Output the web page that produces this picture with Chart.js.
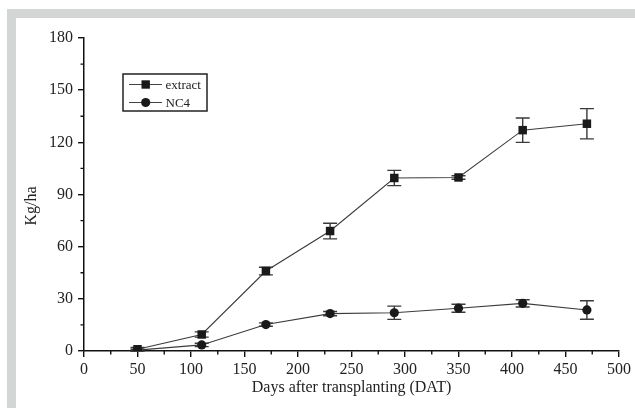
<!DOCTYPE html>
<html>
<head>
<meta charset="utf-8">
<script src="https://cdn.jsdelivr.net/npm/chart.js@4.4.1/dist/chart.umd.min.js"></script>
<style>
  body { margin: 0; background: #fff; }
  #wrap { position: relative; width: 635px; height: 408px; overflow: hidden; }
  .band { position: absolute; background: #d4d5d5; }
  canvas { position: absolute; left: 0; top: 0; }
</style>
</head>
<body>
<div id="wrap">
  <div class="band" style="left:7px; top:9px; width:628px; height:9px;"></div>
  <div class="band" style="left:7px; top:9px; width:9px; height:399px;"></div>
  <canvas id="chart" width="635" height="408"></canvas>
</div>
<script>
// days after transplanting
var days = [50, 110, 170, 230, 290, 350, 410, 470];
// Kg/ha
var extractVals = [1, 9.5, 46, 69, 99.5, 99.8, 127, 130.7];
var extractErr  = [1, 1.5, 2.2, 4.5, 4.4, 1, 7, 8.7];
var nc4Vals = [0.5, 3.5, 15.2, 21.5, 22, 24.6, 27.4, 23.6];
var nc4Err  = [0.5, 1, 1, 1.2, 3.8, 2.3, 2.1, 5.3];
var seriesNames = ["extract", "NC4"];

var serif = "'Liberation Serif', 'Times New Roman', serif";

function toPoints(xs, ys) {
  var pts = [];
  for (var i = 0; i < xs.length; i++) pts.push({x: xs[i], y: ys[i]});
  return pts;
}

// error bars, minor ticks, y title and the boxed legend
var extras = {
  id: "extras",
  beforeDatasetsDraw: function(chart) {
    var ctx = chart.ctx;
    var xs = chart.scales.x, ys = chart.scales.y;
    var sets = [[extractVals, extractErr], [nc4Vals, nc4Err]];
    ctx.save();
    ctx.strokeStyle = "#3a3a3a";
    ctx.lineWidth = 1.4;
    for (var s = 0; s < sets.length; s++) {
      for (var i = 0; i < days.length; i++) {
        var px = xs.getPixelForValue(days[i]);
        var top = ys.getPixelForValue(sets[s][0][i] + sets[s][1][i]);
        var bot = ys.getPixelForValue(sets[s][0][i] - sets[s][1][i]);
        ctx.beginPath();
        ctx.moveTo(px, top); ctx.lineTo(px, bot);
        ctx.moveTo(px - 7, top); ctx.lineTo(px + 7, top);
        ctx.moveTo(px - 7, bot); ctx.lineTo(px + 7, bot);
        ctx.stroke();
      }
    }
    ctx.restore();
  },
  afterDraw: function(chart) {
    var ctx = chart.ctx;
    var xs = chart.scales.x, ys = chart.scales.y;
    var area = chart.chartArea;
    ctx.save();
    ctx.strokeStyle = "#111";
    ctx.lineWidth = 1.4;
    ctx.beginPath();
    for (var v = 25; v < 500; v += 50) {
      var px = xs.getPixelForValue(v);
      ctx.moveTo(px, area.bottom); ctx.lineTo(px, area.bottom + 3.5);
    }
    for (var w = 15; w < 180; w += 30) {
      var py = ys.getPixelForValue(w);
      ctx.moveTo(area.left, py); ctx.lineTo(area.left - 3.5, py);
    }
    ctx.stroke();

    // y axis title
    ctx.fillStyle = "#222";
    ctx.font = "16px " + serif;
    ctx.textAlign = "center";
    ctx.textBaseline = "middle";
    ctx.translate(32, 206);
    ctx.rotate(-Math.PI / 2);
    ctx.fillText("Kg/ha", 0, 0);
    ctx.setTransform(1, 0, 0, 1, 0, 0);

    // legend
    ctx.strokeStyle = "#222";
    ctx.lineWidth = 1.5;
    ctx.strokeRect(123, 74, 84, 37);
    var rows = [84.5, 102.5];
    ctx.font = "13px " + serif;
    ctx.textAlign = "left";
    for (var r = 0; r < rows.length; r++) {
      ctx.strokeStyle = "#444";
      ctx.lineWidth = 1;
      ctx.beginPath();
      ctx.moveTo(129, rows[r]); ctx.lineTo(162, rows[r]);
      ctx.stroke();
      ctx.fillStyle = "#1a1a1a";
      ctx.beginPath();
      if (r === 0) ctx.rect(141.5, rows[r] - 4.2, 8.4, 8.4);
      else ctx.arc(145.7, rows[r], 4.6, 0, Math.PI * 2);
      ctx.fill();
      ctx.fillStyle = "#222";
      ctx.fillText(seriesNames[r], 165.5, rows[r] + 1);
    }
    ctx.restore();
  }
};

var chart = new Chart(document.getElementById("chart"), {
  type: "line",
  data: {
    datasets: [
      {
        label: seriesNames[0],
        data: toPoints(days, extractVals),
        borderColor: "#3c3c3c",
        borderWidth: 1.1,
        pointStyle: "rect",
        pointRadius: 6,
        pointBackgroundColor: "#1a1a1a",
        pointBorderColor: "#1a1a1a",
        pointBorderWidth: 0,
        tension: 0
      },
      {
        label: seriesNames[1],
        data: toPoints(days, nc4Vals),
        borderColor: "#3c3c3c",
        borderWidth: 1.1,
        pointStyle: "circle",
        pointRadius: 4.6,
        pointBackgroundColor: "#1a1a1a",
        pointBorderColor: "#1a1a1a",
        pointBorderWidth: 0,
        tension: 0
      }
    ]
  },
  options: {
    responsive: false,
    animation: false,
    layout: { padding: { left: 0, top: 38, right: 16, bottom: 0 } },
    plugins: { legend: { display: false }, tooltip: { enabled: false } },
    scales: {
      x: {
        type: "linear",
        min: 0, max: 500,
        afterFit: function(s) { s.height = 57; },
        border: { display: true, color: "#111", width: 1.5 },
        grid: { display: true, drawOnChartArea: false, drawTicks: true, tickLength: 6, color: "#111", lineWidth: 1.4 },
        ticks: { stepSize: 50, color: "#222", padding: 3, font: { family: serif, size: 16 }, maxRotation: 0 },
        title: { display: true, text: "Days after transplanting (DAT)", color: "#222", font: { family: serif, size: 16 }, padding: { top: 0, bottom: 11 } }
      },
      y: {
        type: "linear",
        min: 0, max: 180,
        afterFit: function(s) { s.width = 84; },
        border: { display: true, color: "#111", width: 1.5 },
        grid: { display: true, drawOnChartArea: false, drawTicks: true, tickLength: 6, color: "#111", lineWidth: 1.4 },
        ticks: { stepSize: 30, color: "#222", padding: 5, font: { family: serif, size: 16 } }
      }
    }
  },
  plugins: [extras]
});
</script>
</body>
</html>
